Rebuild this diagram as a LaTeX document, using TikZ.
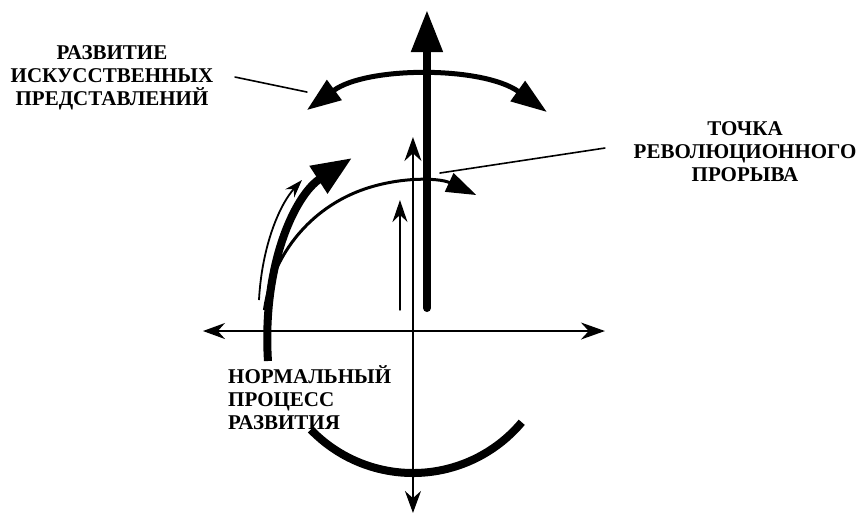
\documentclass[tikz,border=0pt]{standalone}
\usepackage{fontspec}
\setmainfont{Liberation Serif}
\usepackage{tikz}
\usetikzlibrary{calc, arrows.meta}
\usepackage{tkz-euclide}

\tikzset{
    axis/.style={line width=1.6pt, {Stealth[length=22pt, width=16pt]}-{Stealth[length=24pt, width=17pt]}},
    fat/.style={line width=8pt},
    caption/.style={font=\fontsize{21}{23}\selectfont\bfseries, inner sep=0pt},
    pointer/.style={line width=1.6pt}
}

\begin{document}
\begin{tikzpicture}[scale=0.7029]
                \useasboundingbox (0,0) rectangle (43.05,25.7);
                \tkzDefPoints{20.65/9.15/O, 10.15/9.15/W, 30.25/9.15/E, 20.65/0.05/S, 20.65/18.85/N}
                \tkzDefPoints{21.35/10.3/R_1, 21.35/25.2/R_2, 20.0/10.2/T_1, 20.0/15.7/T_2}
                \tkzDefPoints{15.35/20.2/A_1, 18.35/22.4/A_2, 24.15/22.4/A_3, 27.35/20.1/A_4}
                \tkzDefPoints{13.4/7.65/L_1, 13.1/12.45/L_2, 14.75/15.95/L_3, 17.6/17.8/L_4}
                \tkzDefPoints{12.95/10.7/K_1, 13.1/13.45/K_2, 14.0/15.5/K_3, 15.1/16.7/K_4}
                \tkzDefPoints{11.75/21.85/P_1, 15.35/21.1/P_2, 22.0/17.05/Q_1, 30.25/18.3/Q_2}
                \tkzDrawSegments[axis](W,E S,N)
                \tkzDrawSegment[line width=1.3pt, -{Stealth[length=22pt, width=15pt]}](T_1,T_2)
                \tkzDrawSegment[fat, -{Triangle[length=42pt, width=30pt]}](R_1,R_2)
                \draw[line width=5pt, {Triangle[length=34pt, width=24pt]}-{Triangle[length=36pt, width=24pt]}]
                    (A_1) .. controls (A_2) and (A_3) .. (A_4);
                \draw[line width=3pt, -{Triangle[length=30pt, width=20pt]}]
                    ($(O)+(172:7.5)$) arc[start angle=172, end angle=65, radius=7.5];
                \draw[fat, -{Triangle[length=40pt, width=31pt]}]
                    (L_1) .. controls (L_2) and (L_3) .. (L_4);
                \draw[line width=1.8pt, -{Stealth[length=18pt, width=12pt]}]
                    (K_1) .. controls (K_2) and (K_3) .. (K_4);
                \draw[fat] ($(O)+(-136:7.1)$) arc[start angle=-136, end angle=-40, radius=7.1];
                \tkzDrawSegments[pointer](P_1,P_2 Q_1,Q_2)
                \node[caption, align=center] (art) at (5.6,21.8) {РАЗВИТИЕ\\ИСКУССТВЕННЫХ\\ПРЕДСТАВЛЕНИЙ};
                \node[caption, align=center] (leap) at (37.25,18.1) {ТОЧКА\\РЕВОЛЮЦИОННОГО\\ПРОРЫВА};
                \node[caption, align=left, anchor=west] (norm) at (11.4,5.8) {НОРМАЛЬНЫЙ\\ПРОЦЕСС\\РАЗВИТИЯ};
            \end{tikzpicture}
\end{document}
